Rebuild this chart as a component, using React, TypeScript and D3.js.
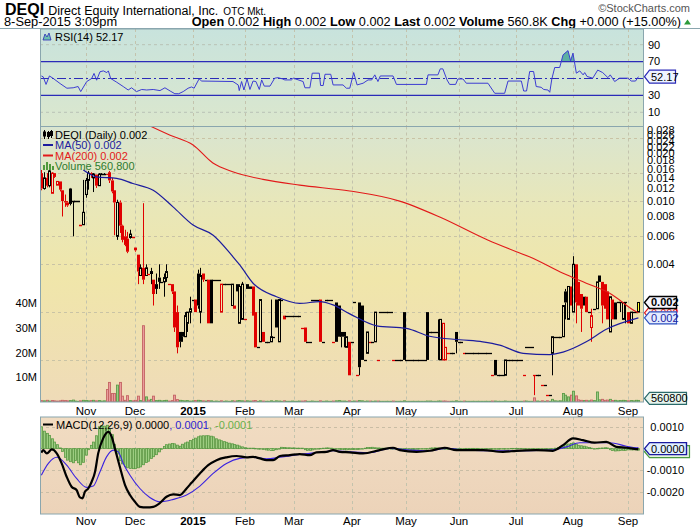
import React from "react";
import * as d3 from "d3";

// ---------------- DATA ----------------
const holidays = ["2014-11-27", "2014-12-25", "2015-01-01", "2015-01-19", "2015-02-16", "2015-04-03", "2015-05-25", "2015-07-03", "2015-09-07"];

// daily open/high/low/close in units of 0.0001
const ohlc: number[][] = [
  // Oct 2014
  [150,157,117,120],[120,152,118,140],[140,150,122,125],[125,158,122,155],[112,152,112,150],
  [150,150,140,142],[126,133,126,133],[133,133,115,118],[117,117,80,100],[100,110,92,98],
  [98,100,92,94],[120,121,94,96],[100,100,60,100],[100,100,100,100],[100,100,100,100],
  [71,71,71,71],[71,136,71,85],
  // Nov
  [110,140,105,135],[135,155,118,150],[150,152,140,148],[140,150,114,148],[147,147,121,125],
  [125,150,125,148],[148,150,146,148],[148,150,146,148],[148,148,146,146],[152,155,130,135],
  [135,140,112,115],[117,117,61,98],[60,102,57,98],[98,101,63,70],[70,71,55,57],
  [60,66,52,53],[58,64,47,48],[59,66,58,62],[59,59,59,59],
  // Dec
  [51,51,48,49],[46,46,30,36],[34,40,34,38],[38,97,30,32],[34,40,34,38],
  [35,35,35,35],[35,38,30,36],[32,32,22,26],[30,35,26,28],[33,40,28,31],
  [31,31,31,31],[31,35,25,33],[33,40,31,36],[30,30,30,30],[30,30,26,27],
  [27,27,15,16],[20,22,11,12],[15,15,12,13],[15,15,13,14],[14,20,14,19],
  [17,20,15,20],[20,25,17,21],
  // Jan 2015
  [24,24,24,24],[24,24,20,20],[35,37,21,22],[20,38,17,34],[35,35,31,32],
  [32,32,32,32],[32,32,17,17],[32,32,17,17],[32,32,32,32],[32,32,32,32],
  [32,32,32,32],[20,30,20,30],[30,30,30,30],[30,30,30,30],[30,30,30,30],
  [22,30,22,30],[22,22,21,21],[30,30,27,27],[17,30,17,29],[18,31,18,30],
  // Feb
  [18,18,18,18],[30,30,28,28],[29,29,28,28],[29,29,19,19],[20,20,12,12],
  [12,12,12,12],[13,24,13,24],[15,15,13,13],[13,13,13,13],[13,13,13,13],
  [13,24,13,14],[14,14,14,14],[24,24,16,16],[13,24,13,24],[24,24,24,24],
  [19,19,18,18],[19,19,19,19],[19,19,19,19],[19,19,19,19],
  // Mar
  [19,19,19,19],[19,19,19,19],[19,19,19,19],[16,16,16,16],[16,16,13,13],
  [13,13,13,13],[13,13,13,13],[24,24,24,24],[24,24,24,24],[24,24,24,24],
  [24,24,13,13],[13,13,13,13],[24,24,24,24],[24,24,24,24],[24,24,24,24],
  [13,13,13,13],[23,23,13,13],[22,22,14,14],[15,15,12,14],[15,15,12,14],
  [12,14,12,14],[13,13,8,8],
  // Apr
  [13,13,13,13],[23,23,23,23],[8,8,8,8],[23,23,8,9],[22,22,10,10],
  [10,10,10,10],[11,15,11,15],[13,13,13,13],[13,13,13,13],[13,20,13,20],
  [10,10,10,10],[20,20,20,20],[20,20,20,20],[20,20,20,20],[20,20,20,20],
  [20,20,20,20],[10,10,10,10],[10,10,10,10],[10,10,10,10],[10,10,10,10],
  [20,20,10,10],
  // May
  [10,10,10,10],[10,10,10,10],[10,10,10,10],[10,10,10,10],[10,10,10,10],
  [10,10,10,10],[10,10,10,10],[10,10,10,10],[20,20,10,10],[15,15,15,15],
  [15,15,15,15],[15,15,15,15],[15,18,10,15],[10,18,10,18],[10,17,10,17],
  [10,12,10,12],[11,11,11,11],[11,11,11,11],[11,11,11,11],[15,15,11,13],
  // Jun
  [13,13,13,13],[13,13,13,13],[11,11,11,11],[11,11,11,11],[11,11,11,11],
  [11,11,11,11],[11,11,11,11],[11,11,11,11],[11,11,11,11],[11,11,11,11],
  [11,11,11,11],[11,11,11,11],[11,11,11,11],[8,8,8,8],[10,10,8,8],
  [8,8,8,8],[8,8,8,8],[8,8,8,8],[8,10,8,10],[10,10,10,10],
  [10,10,10,10],[10,10,10,10],
  // Jul
  [10,10,10,10],[10,10,10,10],[10,10,10,10],[8,8,8,8],[12,12,12,12],
  [12,12,12,12],[12,12,12,12],[8,8,6,8],[8,8,8,8],[8,8,8,8],
  [7,7,7,7],[7,7,7,7],[6,6,6,6],[6,6,6,6],[11,14,8,14],
  [14,14,14,14],[14,14,14,14],[14,14,14,14],[14,22,14,22],[27,28,18,23],
  [18,29,18,29],[29,29,22,22],
  // Aug
  [20,45,20,40],[40,40,17,23],[31,31,22,22],[26,26,15,21],[25,25,22,22],
  [25,25,20,20],[20,20,20,20],[16,21,13,19],[21,21,21,21],[21,31,21,31],
  [34,34,31,31],[31,31,17,22],[30,30,21,21],[27,27,18,18],[15,25,15,25],
  [24,24,18,18],[23,23,18,18],[23,23,23,23],[23,23,20,23],[18,23,18,23],
  [23,23,17,23],
  // Sep
  [20,20,17,17],[17,20,17,20],[20,20,20,20],[20,20,20,20],[20,23,20,23],
];

// daily volume, millions of shares
const volumeM: number[] = [
  0.5,0.4,0.6,0.3,0.5,0.4,0.3,0.4,0.6,0.5,
  0.4,0.5,0.7,0.3,0.2,0.4,0.6,0.5,0.4,0.5,
  0.6,0.4,0.5,0.3,0.4,5.0,7.9,3.4,3.4,6.8,
  7.9,2.3,0.6,2.5,0.5,0.4,0.6,2.3,0.5,31.0,
  2.0,0.7,1.0,2.3,0.5,0.6,0.4,0.5,0.6,0.3,
  0.5,2.7,0.9,0.6,0.5,0.4,0.5,0.3,0.4,0.5,
  0.6,0.5,0.4,0.3,0.5,0.4,0.2,0.3,0.2,0.4,
  0.2,0.3,0.2,0.4,0.3,0.4,0.5,0.4,0.3,0.4,
  0.3,0.4,0.5,0.2,0.4,0.3,0.2,0.2,0.4,0.2,
  0.4,0.3,0.2,0.4,0.2,0.2,0.3,0.2,0.2,0.3,
  0.3,0.4,0.2,0.2,0.3,0.2,0.2,0.4,0.2,0.3,
  0.2,0.2,0.3,0.4,0.5,0.3,0.3,0.2,0.4,0.2,
  0.3,0.3,0.5,0.4,0.2,0.3,0.3,0.2,0.3,0.3,
  0.2,0.2,0.2,0.2,0.2,0.3,0.2,0.2,0.2,0.4,
  0.2,0.2,0.2,0.2,0.2,0.2,0.2,0.2,0.3,0.3,
  0.2,0.2,0.3,0.3,0.3,0.3,0.2,0.2,0.2,0.4,
  0.2,0.2,0.3,0.2,0.2,0.2,0.2,0.2,0.2,0.2,
  0.2,0.2,0.2,0.3,0.3,0.2,0.2,0.2,0.3,0.2,
  0.2,0.2,0.2,0.2,0.2,0.3,0.3,0.2,0.2,1.6,
  0.3,0.2,0.4,0.2,0.4,0.2,1.0,0.4,0.3,0.4,
  3.4,2.7,2.0,2.7,4.3,2.4,0.8,0.6,0.5,0.6,
  0.4,0.7,0.5,4.0,0.8,1.0,0.6,0.7,1.0,0.5,
  0.6,0.4,0.5,0.6,0.5,0.4,0.5,0.4,0.6,0.5608,
];

// moving averages: [trading-day index, price in 0.0001]
const ma50Pts: number[][] = [
  [16.1,157],[21.2,142],[28.9,139],[35.1,129],[42.9,117],[50.5,92],[58.2,70.7],[65.9,61],
  [73.5,44.6],[76.1,39.6],[81.2,30.4],[90.2,25],[99.1,22.7],[106.8,23.3],[111.9,22.2],
  [118.3,19.5],[128.6,16.4],[140,15.8],[148.9,14.1],[160.5,13.4],[169.3,13.0],[175.8,12.4],
  [184.8,11.0],[195,10.8],[200.1,11.2],[209,13.0],[216.7,15.6],[229,18.4],
];
const ma200Pts: number[][] = [
  [36,330],[41.7,297],[49.4,260],[58.2,225.6],[65.8,173.6],[73.4,153],[85,137],[99.1,126],
  [118.3,115.8],[137.4,100],[152.8,79.4],[171.2,56.9],[182.2,48],[187.2,44.6],[200.1,35.1],
  [209,30.4],[218,26.3],[228.2,20.1],[229,19.8],
];

// RSI(14): [trading-day index, value]
const rsiPts: number[][] = [
  [0,53],[0.7,52],[1.8,43],[3.1,53],[4.6,50],[7.2,44],[9.8,38.5],[12.2,39],[14.1,40.5],[15.1,34.5],
  [17.4,46.4],[19.3,50],[20.2,56],[21.2,48],[22.5,58],[23.8,59],[25.1,57],[25.7,59],[26.6,50],
  [28.9,45.6],[31.4,40.5],[33.3,36.4],[34.6,39],[36.5,34.5],[38.5,37],[40.4,36.4],[42.9,37],
  [45.5,35.7],[47.4,39],[49.4,35.2],[51.2,32],[52.7,32],[54.4,34.5],[56.3,38.5],[57.6,40],
  [58.6,38.5],[60.5,49.5],[61.5,47],[73.5,46.4],[75.5,42.4],[75.9,35.7],[76.8,46.4],[77.7,36.4],
  [78.9,49.5],[80,37],[81.2,47],[82.3,46.4],[83.6,37],[84.5,48.3],[85.5,41],[87.7,41],[89.5,50.4],
  [90.8,51],[92.5,49.5],[93.4,48.3],[95.9,48.3],[96.6,50.4],[100.4,46.4],[101.1,39],[103,39],
  [103.9,56.3],[106.6,56.3],[107.1,41.7],[108.1,41.7],[108.8,55],[111,55],[111.9,42.4],[115.7,42.4],
  [117,38.5],[118.3,38.5],[119.8,57],[121.1,42.4],[123.4,44.4],[125.3,48.3],[126.7,48.3],[127.9,54.3],
  [129.1,46.4],[130,53],[134.9,53],[136.2,43],[147.7,43],[148.3,54.3],[152.1,54.3],[153,61.4],
  [154,61.4],[155.6,48.3],[156.6,43],[158.9,43],[159.8,49.5],[161.7,49.5],[163,44.4],[171.3,44.4],
  [173.9,32.5],[177.7,32.5],[179,47],[184.1,47],[185,35.2],[186.1,35.2],[187.3,58.3],[188.8,58.3],
  [189.8,40.5],[191.7,39.6],[192.7,37],[194.3,36.4],[195,33.7],[195.8,49.5],[196.9,63],[198.8,63],
  [200.1,78],[202,83],[203,71],[203.9,80],[205.2,56.3],[206.5,59],[207.8,54.3],[208.4,57],
  [209.3,52.4],[211.5,50.4],[213.4,60],[215.3,57],[217.3,51],[218.2,54.3],[219.9,46.4],[221.8,50.4],
  [225,50.4],[226.3,47],[227.9,47],[229,52.17],
];

// MACD(12,26,9) lines: [trading-day index, value in 0.0001]
const macdPts: number[][] = [
  [0,-1.9],[0.7,-0.7],[2.1,-2.2],[4,-0.4],[5.9,-2.2],[7.8,-6.8],[9.7,-12.9],[11.6,-17.5],[13.5,-19],
  [14.8,-22.4],[15.8,-22.8],[16.7,-19.8],[18,-18.3],[19.3,-15.2],[20.6,-10.6],[21.8,-2.2],[23.7,4.7],
  [25.7,7.7],[27,5.4],[28.2,0.1],[30.1,-8.3],[32.1,-16.7],[34,-21.3],[35.9,-24.4],[37.8,-26.7],
  [40.4,-27],[42.9,-26.7],[45.5,-24.9],[48,-22.1],[50.6,-21],[53.1,-21.3],[55.7,-18.3],[57.6,-15.7],
  [60.8,-11.4],[64,-7.6],[67.2,-5.3],[71,-4],[74.9,-3.4],[78.7,-4],[81.2,-3.8],[83.8,-4.5],[86.4,-5.3],
  [88.9,-5.3],[91.5,-3.4],[95.3,-3],[99.1,-2.5],[103,-3],[105.5,-1.7],[109.4,-1.5],[111.9,-0.7],
  [114.5,-1.5],[118.3,-1.7],[123.4,-2.2],[129.8,-0.7],[134.9,0.4],[137.5,-0.7],[143.9,-1.5],[149,-1],
  [154.7,0.4],[159.2,-0.7],[169.4,-0.7],[177.1,-1.5],[182.2,-1],[189.8,-0.7],[196.2,-1],[200.1,1.6],
  [203.9,4.7],[207.7,3.9],[212.2,2.7],[216.7,3.1],[220.5,0.8],[224.4,0.4],[228.2,-0.2],[229,-0.3],
];
const signalPts: number[][] = [
  [0,-12.2],[2.7,-6.8],[5.9,-4],[9.7,-7.6],[13.5,-13.7],[17.4,-17.8],[19.9,-17.2],[22.5,-10.6],
  [25,-3.8],[27.6,-0.7],[29.5,-1.5],[31.4,-6.8],[34,-12.2],[37.8,-18.3],[41.6,-22.4],[45.5,-24.4],
  [50.6,-23.3],[55.7,-21.3],[60.8,-17.2],[65.9,-11.4],[71,-6.8],[76.1,-4.5],[81.2,-4],[86.4,-4.7],
  [91.5,-4],[99.1,-2.7],[106.8,-1.7],[111.9,-1],[118.3,-1.5],[126,-1.9],[133.6,0.1],[141.3,-0.7],
  [149,-1],[155.4,0.1],[163,-0.7],[175.8,-1],[194.9,-0.7],[201.4,0.8],[206.5,2.7],[212.9,2.7],
  [218,2.7],[224.4,1.1],[228.2,0.4],[229,0.5],
];
// MACD histogram, daily, in 0.0001
const histVals: number[] = [
  10,8,7,6,4.5,3,1.8,0.3,-1.3,-4,
  -5.3,-6,-6.5,-5.5,-6.5,-7.4,-6.3,-3,-0.5,1.5,
  3,5.9,10,10.5,10.3,10.7,9,6.4,2,-2.5,
  -5.5,-7,-8.2,-8.8,-9.1,-9.2,-9.2,-8.8,-8.4,-7.4,
  -6.4,-5.8,-4.5,-3.7,-2.8,-1.5,-0.3,1,1.8,2.1,
  2.3,2.2,1.6,1.1,2,2.6,3,3.7,4.3,4.8,
  5.4,5.8,5.9,5.9,5.9,5.7,5.4,4.5,4,3.6,
  3.2,2.9,2.5,2.2,1.9,1.6,1.2,0.8,0.4,0.2,
  0.2,0.2,0.1,0,-0.2,-0.4,-0.6,-0.7,-0.9,-0.9,
  -0.5,0,0.6,0.5,0.4,0.4,0.3,0.3,0.2,0.2,
  0.2,-0.5,-0.8,-0.8,-0.6,-0.3,0,0.1,0.2,0.3,
  0.3,0.2,0,-0.3,-0.3,-0.4,-0.5,-0.6,-0.5,-0.4,
  -0.4,-0.4,-0.3,-0.2,0.2,0.5,0.5,0.6,0.4,0.3,
  0.2,0.2,0.2,0.1,0,-0.1,0,0,-0.2,-0.4,
  -0.5,-0.6,-0.5,-0.4,-0.3,-0.2,-0.2,-0.1,0,0.2,
  0.3,0.4,0.3,0.1,-0.1,-0.3,-0.3,-0.3,-0.2,-0.1,
  -0.1,-0.1,0,0.1,0.1,0.1,0.1,0.1,0,0,
  0,-0.1,-0.2,-0.3,-0.3,-0.3,-0.2,-0.1,0,0,
  0.1,0.1,0.1,0.1,0.1,0,0,-0.1,-0.1,-0.1,
  -0.1,-0.1,-0.2,-0.3,-0.4,-0.4,-0.2,0.2,0.5,0.8,
  1,1.8,2.1,2.4,2.6,2,1.5,1.3,1.1,0.8,
  0.5,0.2,0,0.1,0.2,0.3,0.4,0.3,-0.5,-0.9,
  -1.1,-1,-0.9,-0.8,-0.8,-0.6,-0.6,-0.6,-0.6,-0.7,
];

const priceTicks = [0.004, 0.006, 0.008, 0.010, 0.012, 0.014, 0.016, 0.018, 0.020, 0.022, 0.024, 0.026, 0.028];
const priceGrid = [0.001, 0.002, 0.004, 0.006, 0.010, 0.015, 0.025];
const volTicks = [10, 20, 30, 40];
const rsiTicks = [10, 30, 70, 90];
const macdTicks = [0.001, -0.001, -0.002];

// ---------------- LAYOUT ----------------
const L = 40, R = 644;
const RSI = { top: 29, bottom: 126.5 };
const MAIN = { top: 126.5, bottom: 402 };
const MACD = { top: 417, bottom: 514 };
const AX = "'Liberation Sans', Arial, sans-serif";
const NARROW = "'Liberation Sans Narrow', 'Liberation Sans', Arial, sans-serif";

function tag(x0: number, y: number, w: number, h = 12) {
  return `M${x0},${y}L${x0 + 5},${y - h / 2}L${x0 + w},${y - h / 2}L${x0 + w},${y + h / 2}L${x0 + 5},${y + h / 2}Z`;
}

export default function App() {
  const fmt = d3.timeFormat("%Y-%m-%d");
  const days = d3.timeDay
    .range(new Date(2014, 9, 9), new Date(2015, 8, 9))
    .filter((d) => d.getDay() !== 0 && d.getDay() !== 6 && !holidays.includes(fmt(d)));
  const n = days.length;

  const x = d3.scaleLinear().domain([0, n - 1]).range([41.35, 638.4]);
  const yP = d3.scaleLog().domain([0.004, 0.01]).range([264.3, 201.1]);
  const yV = d3.scaleLinear().domain([0, 40]).range([401.8, 303.6]);
  const yR = d3.scaleLinear().domain([10, 90]).range([112.3, 44.7]);
  const yM = d3.scaleLinear().domain([-20, 10]).range([492.2, 426.8]);

  const months: { i: number; label: string; bold: boolean }[] = [];
  for (let i = 1; i < n; i++) {
    if (days[i].getMonth() !== days[i - 1].getMonth()) {
      const jan = days[i].getMonth() === 0;
      months.push({ i, label: jan ? String(days[i].getFullYear()) : d3.timeFormat("%b")(days[i]), bold: jan });
    }
  }

  const px = (i: number) => Math.round(x(i));
  const vGrid = (top: number, bottom: number) =>
    months.map((m) => (
      <line key={"vg" + m.i} x1={px(m.i) + 0.5} x2={px(m.i) + 0.5} y1={top} y2={bottom} stroke="#c3c3ad" strokeDasharray="3,3" />
    ));

  const ma50Line = d3.line<number[]>().x((d) => x(d[0])).y((d) => yP(d[1] * 1e-4)).curve(d3.curveMonotoneX)(ma50Pts) || "";
  const ma200Line = d3.line<number[]>().x((d) => x(d[0])).y((d) => yP(d[1] * 1e-4)).curve(d3.curveMonotoneX)(ma200Pts) || "";
  const rsiLine = d3.line<number[]>().x((d) => x(d[0])).y((d) => yR(d[1]))(rsiPts) || "";
  const rsiArea = d3.area<number[]>().x((d) => x(d[0])).y0(yR(70)).y1((d) => yR(d[1]))(rsiPts) || "";
  const macdLine = d3.line<number[]>().x((d) => x(d[0])).y((d) => yM(d[1])).curve(d3.curveMonotoneX)(macdPts) || "";
  const sigLine = d3.line<number[]>().x((d) => x(d[0])).y((d) => yM(d[1])).curve(d3.curveMonotoneX)(signalPts) || "";

  const upDay = (i: number) => {
    const prev = i > 0 ? ohlc[i - 1][3] : ohlc[i][0];
    return ohlc[i][3] >= prev;
  };

  const candles = ohlc.map(([o, h, l, c], i) => {
    const up = upDay(i);
    const last = i === n - 1;
    const col = up ? "#000" : "#e00000";
    const cx = px(i);
    const yo = yP(o * 1e-4), yc = yP(c * 1e-4), yh = yP(h * 1e-4), yl = yP(l * 1e-4);
    const top = Math.min(yo, yc), bot = Math.max(yo, yc);
    const els: JSX.Element[] = [];
    if (yh < top - 0.5) els.push(<line key="wh" x1={cx + 0.5} x2={cx + 0.5} y1={yh} y2={top} stroke={col} strokeWidth={1} />);
    if (yl > bot + 0.5) els.push(<line key="wl" x1={cx + 0.5} x2={cx + 0.5} y1={bot} y2={yl} stroke={col} strokeWidth={1} />);
    if (o === c) {
      els.push(<line key="b" x1={cx - 1} x2={cx + 2} y1={Math.round(yo) + 0.5} y2={Math.round(yo) + 0.5} stroke={col} strokeWidth={1.3} />);
    } else if (c > o) {
      els.push(<rect key="b" x={cx - 0.5} y={top} width={2} height={Math.max(1, bot - top)} fill={last ? "#ffff30" : "none"} stroke={last ? "#000" : col} strokeWidth={1} />);
    } else {
      els.push(<rect key="b" x={cx - 1} y={top} width={3} height={Math.max(1, bot - top)} fill={col} />);
    }
    return <g key={"c" + i}>{els}</g>;
  });

  const vols = volumeM.map((v, i) => {
    const up = upDay(i);
    const y0 = yV(0), y1 = yV(v);
    return (
      <rect key={"v" + i} x={px(i) - 0.5} y={y1} width={2} height={Math.max(0.8, y0 - y1)}
        fill={up ? "#9ccb86" : "#e99c9c"} stroke={up ? "#5c9c48" : "#c46464"} strokeWidth={0.9} />
    );
  });

  const hists = histVals.map((v, i) => {
    const y0 = yM(0), y1 = yM(v);
    return (
      <rect key={"h" + i} x={px(i) - 0.5} y={Math.min(y0, y1)} width={2} height={Math.max(0.5, Math.abs(y1 - y0))}
        fill="#9ccc80" stroke="#5a9a44" strokeWidth={0.8} />
    );
  });

  const lastClose = ohlc[n - 1][3] * 1e-4;
  const lastMa50 = ma50Pts[ma50Pts.length - 1][1] * 1e-4;
  const lastMa200 = ma200Pts[ma200Pts.length - 1][1] * 1e-4;
  const lastRsi = rsiPts[rsiPts.length - 1][1];
  const lastVol = volumeM[n - 1];

  return (
    <svg width={700} height={530} style={{ position: "absolute", left: 0, top: 0, background: "#fff" }} fontFamily={AX}>
      <defs>
        <linearGradient id="gRsi" x1="0" y1="0" x2="0" y2="1">
          <stop offset="0" stopColor="#c8e3dd" />
          <stop offset="1" stopColor="#dbe7cd" />
        </linearGradient>
        <linearGradient id="gMain" x1="0" y1="0" x2="0" y2="1">
          <stop offset="0" stopColor="#d9e5d0" />
          <stop offset="0.3" stopColor="#e9e7b8" />
          <stop offset="0.55" stopColor="#f0e6aa" />
          <stop offset="1" stopColor="#efdbb8" />
        </linearGradient>
        <linearGradient id="gMacd" x1="0" y1="0" x2="0" y2="1">
          <stop offset="0" stopColor="#f1dcc2" />
          <stop offset="1" stopColor="#ecd3b9" />
        </linearGradient>
        <clipPath id="cRsi"><rect x={L} y={RSI.top} width={R - L} height={RSI.bottom - RSI.top} /></clipPath>
        <clipPath id="cRsi70"><rect x={L} y={RSI.top} width={R - L} height={yR(70) - RSI.top} /></clipPath>
        <clipPath id="cMain"><rect x={L} y={MAIN.top} width={R - L} height={MAIN.bottom - MAIN.top} /></clipPath>
        <clipPath id="cMacd"><rect x={L} y={MACD.top} width={R - L} height={MACD.bottom - MACD.top} /></clipPath>
      </defs>

      {/* ---------- header ---------- */}
      <text x={5} y={15} fontFamily={NARROW}>
        <tspan fontWeight="bold" fontSize={16}>DEQI</tspan>
        <tspan fontSize={12.5} dx={4}>Direct Equity International, Inc.</tspan>
        <tspan fontSize={10} dx={5}>OTC Mkt.</tspan>
      </text>
      <text x={690} y={12} fontSize={11} textAnchor="end" fill="#555">©StockCharts.com</text>
      <text x={4} y={26} fontSize={12.8} fontFamily={NARROW}>8-Sep-2015 3:09pm</text>
      <text x={681} y={26} fontSize={12.7} textAnchor="end" fontFamily={NARROW}>
        <tspan fontWeight="bold">Open</tspan> 0.002 <tspan fontWeight="bold">High</tspan> 0.002{" "}
        <tspan fontWeight="bold">Low</tspan> 0.002 <tspan fontWeight="bold">Last</tspan> 0.002{" "}
        <tspan fontWeight="bold">Volume</tspan> 560.8K <tspan fontWeight="bold">Chg</tspan> +0.000 (+15.00%)
      </text>
      <path d="M684,24.5L687.5,19.5L691,24.5Z" fill="#2a9a3a" />
      <line x1={0} x2={700} y1={28.5} y2={28.5} stroke="#8aa6ae" />

      {/* ---------- RSI panel ---------- */}
      <rect x={L} y={RSI.top} width={R - L} height={RSI.bottom - RSI.top} fill="url(#gRsi)" />
      {vGrid(RSI.top, RSI.bottom)}
      {[90, 10].map((t) => (
        <line key={"rg" + t} x1={L} x2={R} y1={yR(t)} y2={yR(t)} stroke="#b9c2b6" strokeDasharray="3,3" />
      ))}
      <g clipPath="url(#cRsi70)"><path d={rsiArea} fill="#5eb0a2" /></g>
      <line x1={L} x2={R} y1={yR(70)} y2={yR(70)} stroke="#2b2bb8" strokeWidth={1.1} />
      <line x1={L} x2={R} y1={yR(30)} y2={yR(30)} stroke="#2b2bb8" strokeWidth={1.1} />
      <line x1={L} x2={R} y1={yR(50)} y2={yR(50)} stroke="#2b2bb8" strokeWidth={1} strokeDasharray="9,3,2,3" />
      <g clipPath="url(#cRsi)"><path d={rsiLine} fill="none" stroke="#3c3cd2" strokeWidth={1} /></g>
      <path d="M43,40L45,34L47,37L49,33L51,40Z" fill="#6cc0b0" stroke="#2b2bb8" strokeWidth={0.8} />
      <text x={55} y={41} fontSize={11}>RSI(14) 52.17</text>
      <rect x={L + 0.5} y={RSI.top} width={R - L - 1} height={RSI.bottom - RSI.top} fill="none" stroke="#8aa6ae" />
      {rsiTicks.map((t) => (
        <text key={"rt" + t} x={648} y={yR(t)} dy="0.35em" fontSize={11}>{t}</text>
      ))}
      <path d={tag(644.5, yR(lastRsi), 31, 13)} fill="#eef4ff" stroke="#2b2bb8" strokeWidth={1.2} />
      <text x={651} y={yR(lastRsi)} dy="0.36em" fontSize={11}>{lastRsi.toFixed(2)}</text>

      {/* ---------- main panel ---------- */}
      <rect x={L} y={MAIN.top} width={R - L} height={MAIN.bottom - MAIN.top} fill="url(#gMain)" />
      {vGrid(MAIN.top, MAIN.bottom)}
      {priceGrid.map((p) => (
        <line key={"pg" + p} x1={L} x2={R} y1={Math.round(yP(p)) + 0.5} y2={Math.round(yP(p)) + 0.5} stroke="#c9c3a5" strokeDasharray="3,3" />
      ))}
      <g clipPath="url(#cMain)">
        {vols}
        {candles}
        <path d={ma200Line} fill="none" stroke="#e21a1a" strokeWidth={1.1} />
        <path d={ma50Line} fill="none" stroke="#1c1c9e" strokeWidth={1.2} />
      </g>
      {/* legend */}
      <g>
        <line x1={44.5} x2={44.5} y1={130} y2={139} stroke="#000" />
        <rect x={43} y={131.5} width={3} height={5} fill="#000" />
        <line x1={48.5} x2={48.5} y1={131} y2={139} stroke="#000" />
        <rect x={47.5} y={132.5} width={2} height={4} fill="none" stroke="#000" />
        <line x1={51.5} x2={51.5} y1={130} y2={138} stroke="#000" />
        <rect x={50} y={131} width={3} height={5} fill="#000" />
        <text x={55} y={138.5} fontSize={11}>DEQI (Daily) 0.002</text>
        <line x1={43} x2={53} y1={145} y2={145} stroke="#1c1c9e" strokeWidth={2} />
        <text x={55} y={149} fontSize={11} fill="#1c1c9e">MA(50) 0.002</text>
        <line x1={43} x2={53} y1={155.5} y2={155.5} stroke="#e21a1a" strokeWidth={2} />
        <text x={55} y={159.5} fontSize={11} fill="#e21a1a">MA(200) 0.002</text>
        <rect x={43} y={165} width={2} height={5} fill="#4f9a3c" />
        <rect x={46} y={162} width={2} height={8} fill="#4f9a3c" />
        <rect x={49} y={164} width={2} height={6} fill="#4f9a3c" />
        <rect x={52} y={166} width={2} height={4} fill="#4f9a3c" />
        <text x={55} y={170} fontSize={11} fill="#2f7a2f">Volume 560,800</text>
      </g>
      <rect x={L + 0.5} y={MAIN.top} width={R - L - 1} height={MAIN.bottom - MAIN.top} fill="none" stroke="#8aa6ae" />
      {priceTicks.map((t) => (
        <text key={"pt" + t} x={647} y={yP(t)} dy="0.35em" fontSize={11}>{t.toFixed(3)}</text>
      ))}
      {volTicks.map((t) => (
        <text key={"vt" + t} x={37} y={yV(t)} dy="0.35em" fontSize={11} textAnchor="end">{t}M</text>
      ))}
      <path d={tag(644.5, yP(lastMa200), 32, 12)} fill="#fff0f0" stroke="#e21a1a" strokeWidth={1.2} />
      <text x={651} y={yP(lastMa200)} dy="0.36em" fontSize={11} fill="#e21a1a">0.002</text>
      <path d={tag(644.5, yP(lastMa50), 32, 12)} fill="#e4ecff" stroke="#2b4fc0" strokeWidth={1.2} />
      <text x={651} y={yP(lastMa50)} dy="0.36em" fontSize={11} fill="#1c1c9e">0.002</text>
      <path d={tag(644.5, yP(lastClose), 32, 12)} fill="#f6f6ff" stroke="#000" strokeWidth={1.4} />
      <text x={651} y={yP(lastClose)} dy="0.36em" fontSize={11} fontWeight="bold">0.002</text>
      <path d={tag(644.5, yV(lastVol) - 2, 42, 12)} fill="#e6f4ee" stroke="#2a6a6a" strokeWidth={1.2} />
      <text x={651} y={yV(lastVol) - 2} dy="0.36em" fontSize={11}>{Math.round(lastVol * 1e6)}</text>

      {/* month labels between panels */}
      {months.map((m) => (
        <text key={"ml" + m.i} x={px(m.i)} y={414.5} fontSize={11.5} textAnchor="middle" fontWeight={m.bold ? "bold" : "normal"}>{m.label}</text>
      ))}

      {/* ---------- MACD panel ---------- */}
      <rect x={L} y={MACD.top} width={R - L} height={MACD.bottom - MACD.top} fill="url(#gMacd)" />
      {vGrid(MACD.top, MACD.bottom)}
      {macdTicks.map((t) => (
        <line key={"mg" + t} x1={L} x2={R} y1={Math.round(yM(t * 1e4)) + 0.5} y2={Math.round(yM(t * 1e4)) + 0.5} stroke="#c9bda5" strokeDasharray="3,3" />
      ))}
      <g clipPath="url(#cMacd)">
        {hists}
        <path d={sigLine} fill="none" stroke="#3a22e0" strokeWidth={1.1} />
        <path d={macdLine} fill="none" stroke="#000" strokeWidth={2.2} />
      </g>
      <line x1={43} x2={53} y1={424.5} y2={424.5} stroke="#000" strokeWidth={2} />
      <text x={56} y={428.5} fontSize={11}>
        MACD(12,26,9) 0.0000<tspan fill="#2a22d0">, 0.0001</tspan><tspan fill="#6ab04c">, -0.0001</tspan>
      </text>
      <rect x={L + 0.5} y={MACD.top} width={R - L - 1} height={MACD.bottom - MACD.top} fill="none" stroke="#8aa6ae" />
      {macdTicks.map((t) => (
        <text key={"mt" + t} x={684} y={yM(t * 1e4)} dy="0.35em" fontSize={11} textAnchor="end">{t.toFixed(4)}</text>
      ))}
      <path d={tag(644.5, yM(-0.7) + 1.5, 45, 12)} fill="#e6f4e2" stroke="#4a9a40" strokeWidth={1.2} />
      <path d={tag(644.5, yM(0), 42, 12)} fill="#e2f0ff" stroke="#1a1aa0" strokeWidth={1.4} />
      <text x={651} y={yM(0)} dy="0.36em" fontSize={11}>0.0000</text>

      {months.map((m) => (
        <text key={"mb" + m.i} x={px(m.i)} y={525} fontSize={11.5} textAnchor="middle" fontWeight={m.bold ? "bold" : "normal"}>{m.label}</text>
      ))}
    </svg>
  );
}
